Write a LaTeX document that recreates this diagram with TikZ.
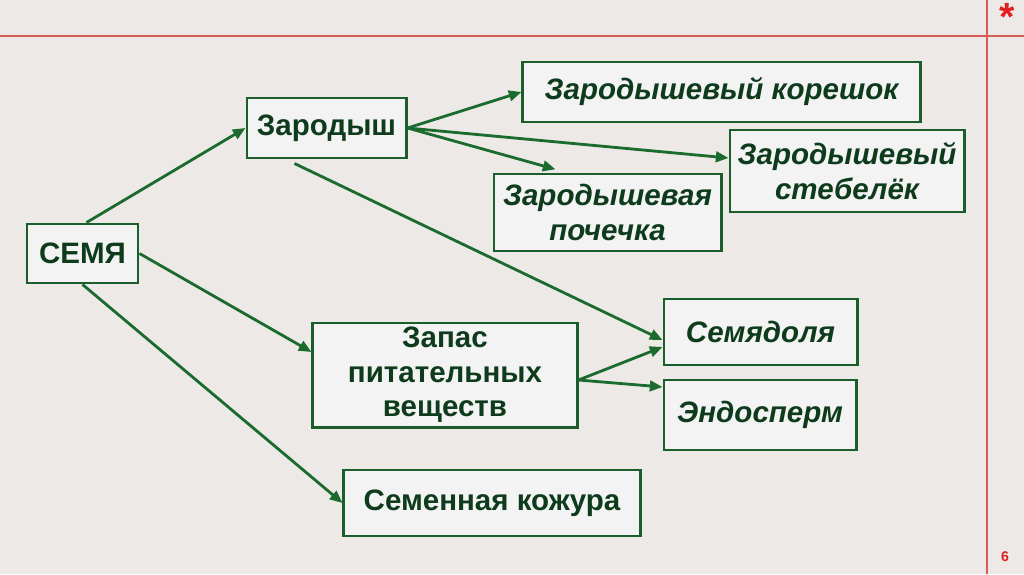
\documentclass[tikz,border=0pt]{standalone}
\usepackage{fontspec}
\setmainfont{Liberation Sans}
\usepackage{xcolor}
\usetikzlibrary{arrows.meta}
\definecolor{bgcol}{HTML}{EDE9E6}
\definecolor{boxfill}{HTML}{F3F3F3}
\definecolor{darkgreen}{HTML}{1B5E2C}
\definecolor{arrowgreen}{HTML}{1C6B2E}
\definecolor{txtgreen}{HTML}{0D3B1C}
\definecolor{slidered}{HTML}{D65A55}
\definecolor{starred}{HTML}{E0201E}

\begin{document}
\begin{tikzpicture}[x=0.025cm, y=-0.025cm,
        box/.style={draw=darkgreen, fill=boxfill, line width=2.1pt, inner sep=0pt,
            align=center, text=txtgreen, font=\fontsize{21}{24.5}\selectfont\bfseries},
        ibox/.style={box, font=\fontsize{21}{24.5}\selectfont\bfseries\itshape},
        link/.style={-{Triangle[length=9pt, width=7.5pt]}, arrowgreen, line width=2pt}]
        % 背景
        \fill[bgcol] (0,0) rectangle (1024,574);
        \useasboundingbox (0,0) rectangle (1024,574);
        \draw[slidered, line width=0.8pt] (0,36) -- (1024,36);
        \draw[slidered, line width=0.8pt] (987,0) -- (987,574);
        \node[text=starred, font=\fontsize{28}{28}\selectfont\bfseries] (star) at (1007,17) {*};
        \node[text=starred, font=\fontsize{10}{10}\selectfont\bfseries] (page) at (1005,557) {6};

        % 方框
        \node[box, minimum width=2.775cm, minimum height=1.475cm] (semya) at (82.5,253.5) {СЕМЯ};
        \node[box, minimum width=3.975cm, minimum height=1.5cm] (zarodysh) at (326.5,128) {Зародыш};
        \node[ibox, minimum width=9.925cm, minimum height=1.5cm] (koreshok) at (721.5,92) {Зародышевый корешок};
        \node[ibox, minimum width=5.85cm, minimum height=2.05cm] (stebelek) at (847,171) {Зародышевый\\стебелёк};
        \node[ibox, minimum width=5.675cm, minimum height=1.925cm] (pochechka) at (607.5,212.5) {Зародышевая\\почечка};
        \node[box, minimum width=6.6cm, minimum height=2.6cm] (zapas) at (445,375) {Запас\\питательных\\веществ};
        \node[ibox, minimum width=4.825cm, minimum height=1.65cm] (semyadolya) at (760.5,332) {Семядоля};
        \node[ibox, minimum width=4.8cm, minimum height=1.75cm] (endosperm) at (760,415) {Эндосперм};
        \node[box, minimum width=7.4cm, minimum height=1.65cm] (kozhura) at (492,503) {Семенная кожура};

        % 箭头
        \draw[link] ([xshift=0.1cm]semya.north) -- (zarodysh.west);
        \draw[link] (semya.east) -- ([yshift=0.575cm]zapas.west);
        \draw[link] (semya.south) -- (kozhura.west);
        \draw[link] (zarodysh.east) -- (koreshok.west);
        \draw[link] (zarodysh.east) -- ([yshift=0.325cm]stebelek.west);
        \draw[link] (zarodysh.east) -- ([xshift=-1.3cm, yshift=0.08cm]pochechka.north);
        \draw[link] ([xshift=-0.8cm, yshift=-0.1cm]zarodysh.south) -- ([yshift=-0.2cm]semyadolya.west);
        \draw[link] ([yshift=-0.125cm]zapas.east) -- ([yshift=-0.375cm]semyadolya.west);
        \draw[link] ([yshift=-0.125cm]zapas.east) -- ([yshift=0.7cm]endosperm.west);
    \end{tikzpicture}
\end{document}
